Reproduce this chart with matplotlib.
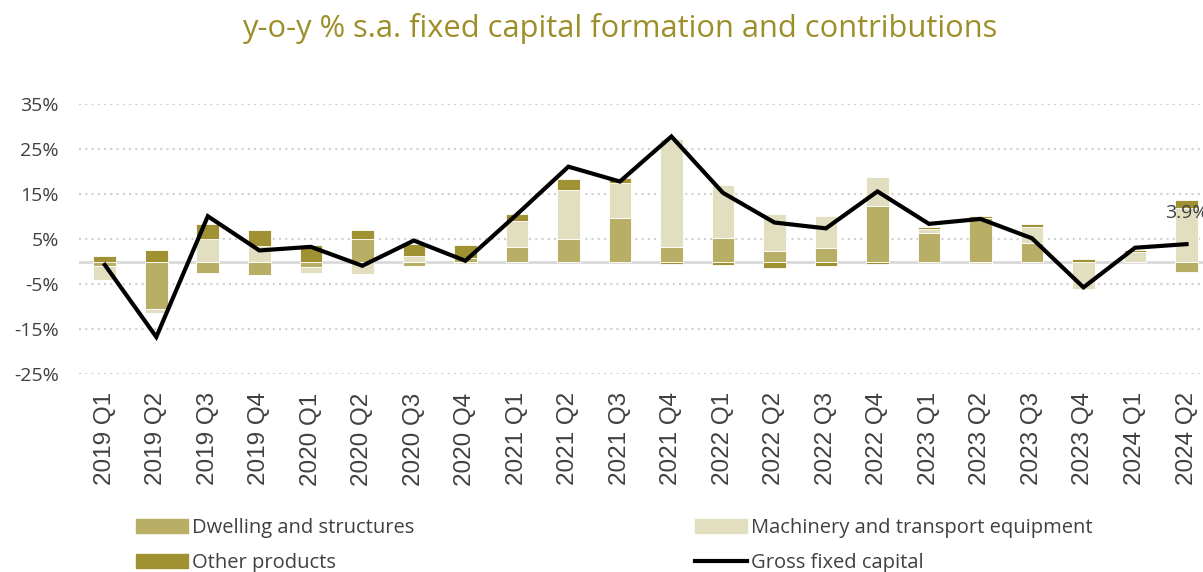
import numpy as np
import matplotlib
matplotlib.use("Agg")
import matplotlib.pyplot as plt
from matplotlib.patches import Patch
from matplotlib.lines import Line2D

plt.rcParams['font.family'] = ['Open Sans', 'DejaVu Sans']

quarters = ['2019 Q1', '2019 Q2', '2019 Q3', '2019 Q4',
            '2020 Q1', '2020 Q2', '2020 Q3', '2020 Q4',
            '2021 Q1', '2021 Q2', '2021 Q3', '2021 Q4',
            '2022 Q1', '2022 Q2', '2022 Q3', '2022 Q4',
            '2023 Q1', '2023 Q2', '2023 Q3', '2023 Q4',
            '2024 Q1', '2024 Q2']

dwelling = [-1.0, -10.4, -2.5, -3.0, -1.1, 5.1, -1.0, 0.9, 3.3, 5.0, 9.6, 3.3,
            5.3, 2.3, 3.1, 12.4, 6.4, 9.6, 4.2, 0.0, 0.0, -2.3]
machinery = [-3.0, -0.9, 5.1, 3.4, -1.4, -2.7, 1.2, -0.4, 5.8, 10.9, 7.9, 23.9,
             11.8, 8.4, 7.1, 6.4, 0.8, -0.6, 3.5, -6.1, 2.2, 11.9]
other = [1.2, 2.7, 3.3, 3.6, 3.6, 2.0, 2.7, 2.8, 1.6, 2.4, 1.1, -0.4,
         -0.8, -1.3, -0.9, -0.5, 0.6, 0.5, 0.7, 0.5, 0.5, 1.7]
gross = [-0.7, -16.7, 10.1, 2.5, 3.3, -0.9, 4.7, 0.2, 10.5, 21.1, 17.8, 27.8,
         15.3, 8.7, 7.4, 15.6, 8.4, 9.5, 5.2, -5.7, 3.1, 3.9]

yticks = [-25, -15, -5, 5, 15, 25, 35]

c_dwell = '#b8ae66'
c_mach = '#e2dfc0'
c_other = '#a09232'
c_text = '#404040'

fig = plt.figure(figsize=(12.03, 5.72), dpi=100)
ax = fig.add_axes([0.0657, 0.3456, 0.9343, 0.4725])

x = np.arange(len(quarters))
pos_base = np.zeros(len(x))
neg_base = np.zeros(len(x))
for vals, col in [(dwelling, c_dwell), (machinery, c_mach), (other, c_other)]:
    v = np.array(vals)
    bottom = np.where(v >= 0, pos_base, neg_base)
    ax.bar(x, v, bottom=bottom, width=0.44, color=col, edgecolor='white',
           linewidth=0.6, zorder=3)
    pos_base = pos_base + np.where(v >= 0, v, 0)
    neg_base = neg_base + np.where(v < 0, v, 0)

ax.plot(x, gross, color='black', lw=3, zorder=4, solid_joinstyle='miter')
ax.annotate('3.9%', (x[-1], gross[-1]), xytext=(0, 16), textcoords='offset points',
            ha='center', va='bottom', fontsize=14, color=c_text, zorder=5,
            annotation_clip=False)

ax.axhline(0, color='#d9d9d9', lw=2, zorder=2)
for t in yticks:
    ax.axhline(t, color='#d0d0d0', lw=1.5, ls=(0, (1, 2)), zorder=1)

ax.set_ylim(-25, 35)
ax.set_xlim(-0.5, 21.32)
ax.set_yticks(yticks)
ax.set_yticklabels(['{}%'.format(t) for t in yticks])
ax.set_xticks(x)
ax.set_xticklabels(quarters, rotation=90, fontsize=17.5,
                   family=['Liberation Sans', 'DejaVu Sans'])
ax.tick_params(axis='both', length=0, colors=c_text)
ax.tick_params(axis='y', labelsize=14, pad=14.4)
ax.tick_params(axis='x', pad=13)
for s in ax.spines.values():
    s.set_visible(False)

fig.text(0.515, 0.95, 'y-o-y % s.a. fixed capital formation and contributions',
         ha='center', va='center', fontsize=22.2, color='#9c8f2a')

handles = [Patch(color=c_dwell), Patch(color=c_other),
           Patch(color=c_mach), Line2D([], [], color='black', lw=3)]
labels = ['Dwelling and structures', 'Other products',
          'Machinery and transport equipment', 'Gross fixed capital']
fig.legend(handles, labels, ncol=2, loc='upper left',
           bbox_to_anchor=(136 / 1203, 1 - 518 / 572), frameon=False,
           fontsize=14.5, handlelength=2.6, handleheight=0.75, handletextpad=0.2,
           columnspacing=13.9, labelspacing=0.75, borderpad=0, borderaxespad=0,
           labelcolor=c_text)

fig.savefig('out.png', dpi=100)
